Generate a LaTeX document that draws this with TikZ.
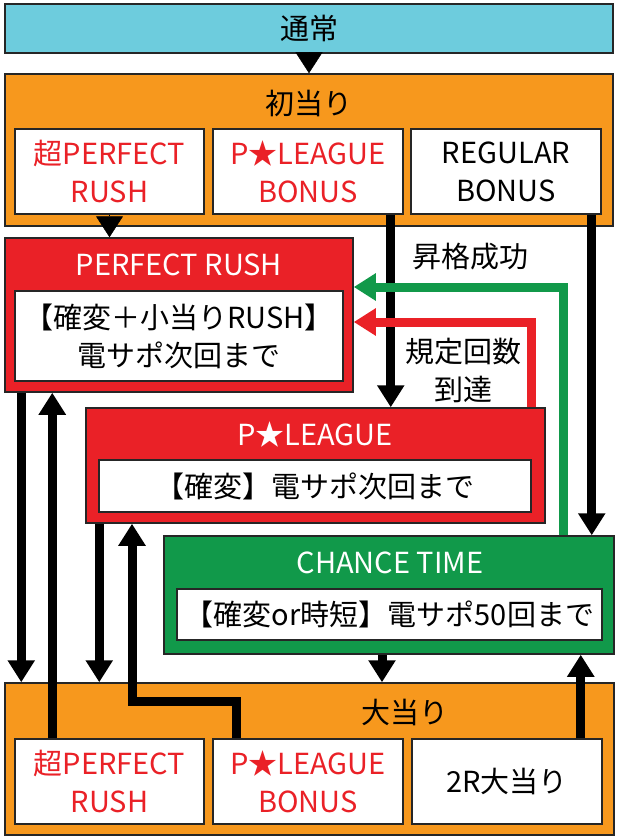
\documentclass[tikz,border=0pt]{standalone}
\usepackage{fontspec}
\setmainfont{Noto Sans CJK JP}
\usepackage{tikz}
\usetikzlibrary{arrows.meta}
\usetikzlibrary{calc}
\usepackage{xcolor}
\definecolor{mycyan}{HTML}{6DCCDD}
\definecolor{myorange}{HTML}{F7981D}
\definecolor{myred}{HTML}{EA2127}
\definecolor{mygreen}{HTML}{11994A}
\tikzset{
  panel/.style 2 args={draw=black!85, line width=1.5pt, inner sep=0pt, minimum width=#1, minimum height=#2},
  flow/.style={line width=9pt, -{Triangle[length=22pt,width=26pt]}},
  tri/.style={line width=0.5pt, -{Triangle[length=#1,width=27pt]}},
}

\begin{document}
\begin{tikzpicture}[x=1pt,y=-1pt,font=\fontsize{29}{38}\selectfont]
        \useasboundingbox (0,0) rectangle (620,840);

        % COORDINATES
        \coordinate (gturn) at (563,287); % green turn
        \coordinate (rturn) at (531,322); % red turn
        \coordinate (eturn) at (132,701); % bonus elbow

        % NORMAL / FIRST HIT
        \node[panel={608pt}{49pt}, fill=mycyan] (tsujo) at (309,28.5) {通常};
        \node[panel={608pt}{152pt}, fill=myorange] (hatsu) at (309,150) {};
        \node (hatsutxt) at (309,103) {初当り};
        \node[panel={189pt}{85pt}, fill=white, text=myred, align=center] (hsp) at (109.5,171.5) {超PERFECT\\RUSH};
        \node[panel={190pt}{85pt}, fill=white, text=myred, align=center] (hplb) at (308,171.5) {P★LEAGUE\\BONUS};
        \node[panel={190pt}{85pt}, fill=white, align=center] (hrb) at (506,171.5) {REGULAR\\BONUS};

        % MODES
        \node[panel={348pt}{154pt}, fill=myred] (pr) at (179,315) {};
        \node[text=white] (prtxt) at (179,265) {PERFECT RUSH};
        \node[panel={328pt}{90pt}, fill=white, align=center] (prin) at (179,336) {【確変＋小当りRUSH】\\電サポ次回まで};

        \node[panel={459pt}{115pt}, fill=myred] (pl) at (315.5,465.5) {};
        \node[text=white] (pltxt) at (315,435) {P★LEAGUE};
        \node[panel={432pt}{52pt}, fill=white] (plin) at (315,486) {【確変】電サポ次回まで};

        \node[panel={450pt}{118pt}, fill=mygreen] (ct) at (389,595) {};
        \node[text=white] (cttxt) at (390,563) {CHANCE TIME};
        \node[panel={425pt}{51pt}, fill=white] (ctin) at (389.5,614.5) {【確変or時短】電サポ50回まで};

        % BIG HIT
        \node[panel={609pt}{152pt}, fill=myorange] (oh) at (309.5,759) {};
        \node (ohtxt) at (405,712) {大当り};
        \node[panel={189pt}{85pt}, fill=white, text=myred, align=center] (bsp) at (109.5,781.5) {超PERFECT\\RUSH};
        \node[panel={190pt}{85pt}, fill=white, text=myred, align=center] (bplb) at (308,781.5) {P★LEAGUE\\BONUS};
        \node[panel={190pt}{85pt}, fill=white] (b2r) at (507,781.5) {2R大当り};

        % LABELS
        \node (upg) at (470,257) {昇格成功};
        \node[align=center] (lim) at (463,370) {規定回数\\到達};

        % ARROWS
        \draw[tri=21pt] (tsujo.south) -- (hatsu.north);
        \draw[tri=21pt] (hsp.south) -- (hsp.south |- pr.north);

        \draw[flow] ([xshift=-13pt]hplb.south east) -- ([xshift=-13pt]hplb.south east |- pl.north);
        \draw[flow] ([xshift=-10pt]hrb.south east) -- ([xshift=-10pt]hrb.south east |- ct.north);
        \draw[flow, color=mygreen] (ct.north -| gturn) -- (gturn) -- (gturn -| pr.east);
        \draw[flow, color=myred] (pl.north -| rturn) -- (rturn) -- (rturn -| pr.east);

        \draw[flow] ([xshift=17pt]pr.south west) -- ([xshift=17pt]pr.south west |- oh.north);
        \draw[flow] ([xshift=38pt]bsp.north west) -- ([xshift=38pt]bsp.north west |- pr.south);
        \draw[flow] ([xshift=14pt]pl.south west) -- ([xshift=14pt]pl.south west |- oh.north);
        \draw[flow] ([xshift=24pt]bplb.north west) |- (eturn) -- (eturn |- pl.south);
        \draw[flow] ([xshift=-7pt]ct.south) -- ([xshift=-7pt]ct.south |- oh.north);
        \draw[flow] ([xshift=-22pt]b2r.north east) -- ([xshift=-22pt]b2r.north east |- ct.south);

    \end{tikzpicture}
\end{document}
